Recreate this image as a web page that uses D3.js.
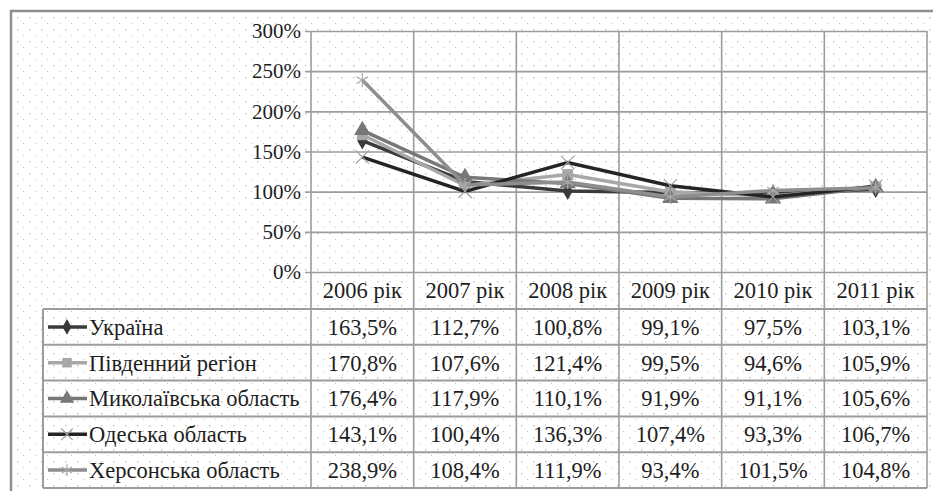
<!DOCTYPE html>
<html>
<head>
<meta charset="utf-8">
<script src="https://cdnjs.cloudflare.com/ajax/libs/d3/7.8.5/d3.min.js"></script>
<style>
  body { margin: 0; background: #fff; font-family: serif; }
</style>
</head>
<body>
<div id="chart"></div>
<script>
// data
var years = ["2006 рік", "2007 рік", "2008 рік", "2009 рік", "2010 рік", "2011 рік"];
var seriesNames = ["Україна", "Південний регіон", "Миколаївська область", "Одеська область", "Херсонська область"];
var ukraine   = [163.5, 112.7, 100.8, 99.1, 97.5, 103.1];
var south     = [170.8, 107.6, 121.4, 99.5, 94.6, 105.9];
var mykolaiv  = [176.4, 117.9, 110.1, 91.9, 91.1, 105.6];
var odesa     = [143.1, 100.4, 136.3, 107.4, 93.3, 106.7];
var kherson   = [238.9, 108.4, 111.9, 93.4, 101.5, 104.8];
var yTicks = [0, 50, 100, 150, 200, 250, 300];

var seriesValues = [ukraine, south, mykolaiv, odesa, kherson];
var lineColor   = ["#3a3a3a", "#a8a8a8", "#777777", "#242424", "#8e8e8e"];
var markColor   = ["#3a3a3a", "#a8a8a8", "#777777", "#a0a0a0", "#a8a8a8"];
var markSymbol  = [d3.symbolDiamond, d3.symbolSquare, d3.symbolTriangle, d3.symbolX, d3.symbolAsterisk];
var markSize    = [70, 90, 90, 90, 100];

var series = seriesNames.map(function(n, i) {
  return {name: n, values: seriesValues[i], i: i};
});

var width = 933, height = 491;
var plot = {left: 311, right: 927, top: 31, bottom: 272};
var tableLeft = 43, headerH = 37, rowH = 35.8;
var serif = "Times New Roman, Liberation Serif, serif";

var uaFormat = d3.formatLocale({decimal: ",", thousands: " ", grouping: [3], currency: ["", ""]});
var fmt1 = uaFormat.format(".1f");

var svg = d3.select("#chart").append("svg")
    .attr("width", width)
    .attr("height", height)
    .attr("font-family", serif);

// dotted background
var defs = svg.append("defs");
var pat = defs.append("pattern")
    .attr("id", "dots")
    .attr("patternUnits", "userSpaceOnUse")
    .attr("width", 12).attr("height", 12);
pat.append("rect").attr("width", 12).attr("height", 12).attr("fill", "#fff");
pat.append("rect").attr("x", 5).attr("y", 5).attr("width", 1.4).attr("height", 1.4).attr("fill", "#c4c4c4");
pat.append("rect").attr("x", 11).attr("y", 11).attr("width", 1.4).attr("height", 1.4).attr("fill", "#c4c4c4");

svg.append("rect")
    .attr("x", 11).attr("y", 11)
    .attr("width", width).attr("height", height)
    .attr("fill", "url(#dots)")
    .attr("stroke", "#8f8f8f")
    .attr("stroke-width", 2.5);

var x = d3.scaleBand()
    .domain(years)
    .range([plot.left, plot.right]);

var y = d3.scaleLinear()
    .domain([0, 300])
    .range([plot.bottom, plot.top]);

var tableBottom = plot.bottom + headerH + rowH * series.length;

// horizontal gridlines + tick labels
var yAxis = svg.append("g")
    .attr("transform", "translate(" + plot.left + ",0)")
    .call(d3.axisLeft(y).tickValues(yTicks).tickSize(-(plot.right - plot.left)).tickPadding(10)
      .tickFormat(function(d) { return d + "%"; }));
yAxis.attr("font-family", serif);
yAxis.select(".domain").remove();
yAxis.selectAll(".tick line")
    .attr("x1", -6)
    .attr("stroke", "#9c9c9c")
    .attr("stroke-width", 1.6);
yAxis.selectAll(".tick text")
    .attr("font-family", serif)
    .attr("font-size", 21)
    .attr("fill", "#1e1e1e");

// vertical column lines running through plot and table
var colEdges = years.map(function(d) { return x(d); }).concat([plot.right]);
svg.append("g").selectAll("line")
    .data(colEdges)
  .enter().append("line")
    .attr("x1", function(d) { return d; })
    .attr("x2", function(d) { return d; })
    .attr("y1", plot.top)
    .attr("y2", tableBottom)
    .attr("stroke", "#9c9c9c")
    .attr("stroke-width", 1.6);

// table rows
var rowLines = d3.range(series.length + 1).map(function(i) { return plot.bottom + headerH + i * rowH; });
svg.append("g").selectAll("line")
    .data(rowLines)
  .enter().append("line")
    .attr("x1", tableLeft)
    .attr("x2", plot.right)
    .attr("y1", function(d) { return d; })
    .attr("y2", function(d) { return d; })
    .attr("stroke", "#9c9c9c")
    .attr("stroke-width", 2);
svg.append("line")
    .attr("x1", tableLeft).attr("x2", tableLeft)
    .attr("y1", rowLines[0]).attr("y2", tableBottom)
    .attr("stroke", "#9c9c9c")
    .attr("stroke-width", 2);

// header labels
svg.append("g").selectAll("text")
    .data(years)
  .enter().append("text")
    .attr("x", function(d) { return x(d) + x.bandwidth() / 2; })
    .attr("y", plot.bottom + headerH / 2)
    .attr("dy", "0.35em")
    .attr("text-anchor", "middle")
    .attr("font-family", serif)
    .attr("font-size", 22.5)
    .attr("fill", "#1e1e1e")
    .text(function(d) { return d; });

// table body
var row = svg.append("g").selectAll("g")
    .data(series)
  .enter().append("g")
    .attr("transform", function(d) { return "translate(0," + (plot.bottom + headerH + d.i * rowH + rowH / 2) + ")"; });

row.append("line")
    .attr("x1", tableLeft + 5).attr("x2", tableLeft + 44)
    .attr("stroke", function(d) { return lineColor[d.i]; })
    .attr("stroke-width", 3.5);

row.append("path")
    .attr("transform", "translate(" + (tableLeft + 24) + ",0)")
    .attr("d", function(d) { return d3.symbol().type(markSymbol[d.i]).size(markSize[d.i])(); })
    .attr("fill", function(d) { return markColor[d.i]; })
    .attr("stroke", function(d) { return markColor[d.i]; })
    .attr("stroke-width", function(d) { return d.i >= 3 ? 1.2 : 0; });

row.append("text")
    .attr("x", tableLeft + 46)
    .attr("dy", "0.35em")
    .attr("font-family", serif)
    .attr("font-size", 22.5)
    .attr("fill", "#1e1e1e")
    .text(function(d) { return d.name; });

row.selectAll(".val")
    .data(function(d) { return d.values; })
  .enter().append("text")
    .attr("class", "val")
    .attr("x", function(v, j) { return x(years[j]) + x.bandwidth() / 2; })
    .attr("dy", "0.35em")
    .attr("text-anchor", "middle")
    .attr("font-family", serif)
    .attr("font-size", 22.5)
    .attr("fill", "#1e1e1e")
    .text(function(v) { return fmt1(v) + "%"; });

// lines
var line = d3.line()
    .x(function(v, j) { return x(years[j]) + x.bandwidth() / 2; })
    .y(function(v) { return y(v); });

var sg = svg.append("g").selectAll("g")
    .data(series)
  .enter().append("g");

sg.append("path")
    .attr("d", function(d) { return line(d.values); })
    .attr("fill", "none")
    .attr("stroke", function(d) { return lineColor[d.i]; })
    .attr("stroke-width", 3.5);

sg.selectAll(".mark")
    .data(function(d) { return d.values.map(function(v) { return {v: v, i: d.i}; }); })
  .enter().append("path")
    .attr("class", "mark")
    .attr("transform", function(p, j) { return "translate(" + (x(years[j]) + x.bandwidth() / 2) + "," + y(p.v) + ")"; })
    .attr("d", function(p) { return d3.symbol().type(markSymbol[p.i]).size(markSize[p.i] * 1.3)(); })
    .attr("fill", function(p) { return markColor[p.i]; })
    .attr("stroke", function(p) { return markColor[p.i]; })
    .attr("stroke-width", function(p) { return p.i >= 3 ? 1.2 : 0; });
</script>
</body>
</html>
